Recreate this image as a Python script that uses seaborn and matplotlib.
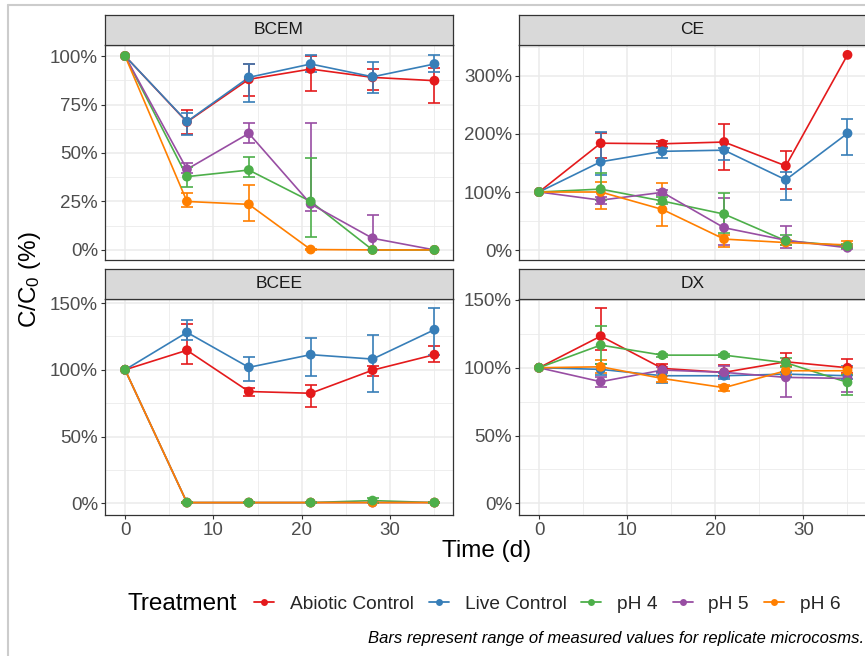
import numpy as np
import pandas as pd
import matplotlib
matplotlib.use("Agg")
import matplotlib.pyplot as plt
import seaborn as sns
from matplotlib.lines import Line2D
from matplotlib.ticker import FuncFormatter, FixedLocator

# ---------------- data ----------------
days = [0, 7, 14, 21, 28, 35]
treatments = ["Abiotic Control", "Live Control", "pH 4", "pH 5", "pH 6"]
colors = ["#E41A1C", "#377EB8", "#4DAF4A", "#984EA3", "#FF7F00"]
compounds = ["BCEM", "CE", "BCEE", "DX"]

# BCEM
bcem_abiotic = [100, 66, 88, 93.3, 89, 87.3]
bcem_abiotic_lo = [100, 60, 79.4, 82, 82.5, 75.6]
bcem_abiotic_hi = [100, 72, 96, 100.2, 93.3, 94]
bcem_live = [100, 66.2, 89, 95.9, 89.3, 95.9]
bcem_live_lo = [100, 59.3, 76.5, 92, 81, 92]
bcem_live_hi = [100, 70.8, 95.9, 100.5, 97, 100.5]
bcem_ph4 = [100, 37.8, 41.2, 25, 0, 0]
bcem_ph4_lo = [100, 32.6, 37.8, 6.9, 0, 0]
bcem_ph4_hi = [100, 42.6, 47.8, 47.3, 0, 0]
bcem_ph5 = [100, 41.6, 60.1, 23.7, 6, 0]
bcem_ph5_lo = [100, 39.5, 55.3, 20, 0, 0]
bcem_ph5_hi = [100, 44.7, 65.3, 65.6, 18, 0]
bcem_ph6 = [100, 25, 23.5, 0.2, 0, 0]
bcem_ph6_lo = [100, 22, 15.1, 0, 0, 0]
bcem_ph6_hi = [100, 29.6, 33.5, 0.5, 0, 0]

# CE
ce_abiotic = [100, 184, 183, 186, 145, 336]
ce_abiotic_lo = [100, 159, 178, 138, 106, 336]
ce_abiotic_hi = [100, 201, 187, 217, 171, 336]
ce_live = [100, 152, 170, 172, 121, 201]
ce_live_lo = [100, 130, 158, 155, 87, 164]
ce_live_hi = [100, 204, 175, 175, 135, 225]
ce_ph4 = [100, 105, 84.5, 62, 16, 7]
ce_ph4_lo = [100, 86, 79, 29, 9, 4]
ce_ph4_hi = [100, 132, 92, 99, 26, 11]
ce_ph5 = [100, 86, 99.4, 38.5, 17, 4]
ce_ph5_lo = [100, 79, 95, 9, 3, 2]
ce_ph5_hi = [100, 92, 103, 89, 42, 7]
ce_ph6 = [100, 100, 70, 19, 13, 9]
ce_ph6_lo = [100, 70, 42, 6, 9, 6]
ce_ph6_hi = [100, 118, 116, 26, 17, 16]

# BCEE
bcee_abiotic = [100, 114.6, 83.7, 82.4, 99.7, 111.3]
bcee_abiotic_lo = [100, 104, 80.4, 72, 95.5, 105.5]
bcee_abiotic_hi = [100, 134, 86, 88.7, 103, 118]
bcee_live = [100, 128, 101.8, 111.3, 108, 130]
bcee_live_lo = [100, 122, 91.7, 95.5, 83.7, 111]
bcee_live_hi = [100, 137.4, 109.8, 124, 126, 146.5]
bcee_ph4 = [100, 0.5, 0.5, 0.5, 2, 0.5]
bcee_ph4_lo = [100, 0.3, 0.3, 0.3, 0.3, 0.3]
bcee_ph4_hi = [100, 0.7, 0.7, 0.7, 3.8, 0.7]
bcee_ph5 = [100, 0.5, 0.5, 0.5, 0.5, 0.5]
bcee_ph5_lo = [100, 0.3, 0.3, 0.3, 0.3, 0.3]
bcee_ph5_hi = [100, 0.7, 0.7, 0.7, 0.7, 0.7]
bcee_ph6 = [100, 0.5, 0.5, 0.5, 0.5, 0.5]
bcee_ph6_lo = [100, 0.3, 0.3, 0.3, 0.3, 0.3]
bcee_ph6_hi = [100, 0.7, 0.7, 0.7, 0.7, 0.7]

# DX
dx_abiotic = [100, 123.3, 99.5, 96.6, 104.4, 100]
dx_abiotic_lo = [100, 113, 97, 94, 101, 95.8]
dx_abiotic_hi = [100, 143.7, 103, 102, 110.6, 106.4]
dx_live = [100, 98.8, 94.1, 94.1, 95.3, 94.1]
dx_live_lo = [100, 94.6, 89, 92, 93, 92]
dx_live_hi = [100, 103, 97, 95.8, 97, 101]
dx_ph4 = [100, 116.7, 109.3, 109.3, 103.7, 89.2]
dx_ph4_lo = [100, 103, 108, 108, 100.7, 79.9]
dx_ph4_hi = [100, 130.7, 110.5, 110.5, 107, 94.6]
dx_ph5 = [100, 89.7, 98.3, 96.6, 92.9, 92.1]
dx_ph5_lo = [100, 86, 95.8, 92.9, 78.6, 82.3]
dx_ph5_hi = [100, 92.9, 100.2, 101, 101, 94.6]
dx_ph6 = [100, 100.7, 92.1, 85.3, 97.8, 97.8]
dx_ph6_lo = [100, 95.8, 89.7, 83, 94.6, 95.3]
dx_ph6_hi = [100, 105.7, 93.9, 87.2, 101, 100.2]

y_ticks = {
    "BCEM": [0, 25, 50, 75, 100],
    "CE": [0, 100, 200, 300],
    "BCEE": [0, 50, 100, 150],
    "DX": [0, 50, 100, 150],
}
x_ticks = [0, 10, 20, 30]

series = {
    "BCEM": [(bcem_abiotic, bcem_abiotic_lo, bcem_abiotic_hi), (bcem_live, bcem_live_lo, bcem_live_hi),
             (bcem_ph4, bcem_ph4_lo, bcem_ph4_hi), (bcem_ph5, bcem_ph5_lo, bcem_ph5_hi),
             (bcem_ph6, bcem_ph6_lo, bcem_ph6_hi)],
    "CE": [(ce_abiotic, ce_abiotic_lo, ce_abiotic_hi), (ce_live, ce_live_lo, ce_live_hi),
           (ce_ph4, ce_ph4_lo, ce_ph4_hi), (ce_ph5, ce_ph5_lo, ce_ph5_hi),
           (ce_ph6, ce_ph6_lo, ce_ph6_hi)],
    "BCEE": [(bcee_abiotic, bcee_abiotic_lo, bcee_abiotic_hi), (bcee_live, bcee_live_lo, bcee_live_hi),
             (bcee_ph4, bcee_ph4_lo, bcee_ph4_hi), (bcee_ph5, bcee_ph5_lo, bcee_ph5_hi),
             (bcee_ph6, bcee_ph6_lo, bcee_ph6_hi)],
    "DX": [(dx_abiotic, dx_abiotic_lo, dx_abiotic_hi), (dx_live, dx_live_lo, dx_live_hi),
           (dx_ph4, dx_ph4_lo, dx_ph4_hi), (dx_ph5, dx_ph5_lo, dx_ph5_hi),
           (dx_ph6, dx_ph6_lo, dx_ph6_hi)],
}

rows = []
for comp in compounds:
    for t, (m, lo, hi) in zip(treatments, series[comp]):
        for d, v, l, h in zip(days, m, lo, hi):
            rows.append(dict(compound=comp, treatment=t, day=d, value=v, lo=l, hi=h))
df = pd.DataFrame(rows)

# ---------------- style ----------------
sns.set_theme(style="white")
plt.rcParams["font.family"] = ["Liberation Sans", "DejaVu Sans"]
plt.rcParams["mathtext.default"] = "regular"

palette = dict(zip(treatments, colors))
point_order = ["Abiotic Control", "Live Control", "pH 5", "pH 6", "pH 4"]

W, H = 865, 656
fig = plt.figure(figsize=(W / 100, H / 100), dpi=100)
fig.patch.set_facecolor("white")

def fx(px):
    return px / W

def fy(py):
    return 1 - py / H

panels = {
    "BCEM": (105, 453, 45, 260, 15, (-5.2, 105.7)),
    "CE": (519, 866, 45, 260, 15, (-17, 353)),
    "BCEE": (105, 453, 299, 515, 269, (-8.8, 153)),
    "DX": (519, 866, 299, 515, 269, (-8.6, 150.7)),
}

frame_col = "#333333"
grid_col = "#EBEBEB"

for comp in compounds:
    x0, x1, y0, y1, s0, ylim = panels[comp]
    ax = fig.add_axes([fx(x0), fy(y1), fx(x1 - x0), (y1 - y0) / H])
    sub = df[df.compound == comp]

    sns.lineplot(data=sub, x="day", y="value", hue="treatment", hue_order=treatments,
                 palette=palette, ax=ax, legend=False, lw=1.2, errorbar=None, zorder=2)
    for t in point_order:
        s = sub[(sub.treatment == t) & (sub.hi > sub.lo)]
        if len(s):
            ax.errorbar(s["day"], s["value"],
                        yerr=[s["value"] - s["lo"], s["hi"] - s["value"]],
                        fmt="none", ecolor=palette[t], elinewidth=1.2, capsize=4.5,
                        capthick=1.2, zorder=3)
    for t in point_order:
        s = sub[sub.treatment == t]
        sns.scatterplot(data=s, x="day", y="value", color=palette[t], ax=ax,
                        legend=False, s=50, edgecolor="none", linewidth=0, zorder=4)

    ax.set_xlim(-2.27, 37.1)
    ax.set_ylim(*ylim)
    ax.xaxis.set_major_locator(FixedLocator(x_ticks))
    ax.xaxis.set_minor_locator(FixedLocator([5, 15, 25, 35]))
    yt = y_ticks[comp]
    ax.yaxis.set_major_locator(FixedLocator(yt))
    step = yt[1] - yt[0]
    ax.yaxis.set_minor_locator(FixedLocator([v + step / 2 for v in yt]))
    ax.yaxis.set_major_formatter(FuncFormatter(lambda v, p: f"{v:.0f}%"))
    ax.grid(True, which="major", color=grid_col, lw=1.1, zorder=0)
    ax.grid(True, which="minor", color=grid_col, lw=0.6, zorder=0)
    ax.set_axisbelow(True)
    ax.set_xlabel("")
    ax.set_ylabel("")
    for sp in ax.spines.values():
        sp.set_color(frame_col)
        sp.set_linewidth(0.9)
    ax.tick_params(axis="both", which="major", length=3, width=0.8, color=frame_col,
                   labelsize=13.5, labelcolor="#4D4D4D", pad=2, direction="out",
                   left=True, bottom=True)
    ax.tick_params(which="minor", length=0)
    if comp in ("BCEM", "CE"):
        ax.tick_params(axis="x", labelbottom=False, bottom=False)

    # strip
    sax = fig.add_axes([fx(x0), fy(y0), fx(x1 - x0), (y0 - s0) / H])
    sax.set_facecolor("#D9D9D9")
    sax.set_xticks([])
    sax.set_yticks([])
    for sp in sax.spines.values():
        sp.set_color(frame_col)
        sp.set_linewidth(0.9)
    sax.text(0.5, 0.5, comp, transform=sax.transAxes, ha="center", va="center",
             fontsize=12.5, color="#1A1A1A")

# axis titles
fig.text(fx(30), fy(280), "C/C$_0$ (%)", rotation=90, ha="center", va="center",
         fontsize=17.5, color="black")
fig.text(fx(487), fy(551), "Time (d)", ha="center", va="center", fontsize=17.5,
         color="black")

# legend
fig.text(fx(128), fy(604), "Treatment", ha="left", va="center", fontsize=17.5,
         color="black")
handles = [Line2D([0], [0], color=c, lw=1.3, marker="o", markersize=5,
                  markeredgewidth=0) for c in colors]
fig.legend(handles, treatments, loc="center left", bbox_to_anchor=(fx(254), fy(604)),
           ncol=5, frameon=False, fontsize=13.8, handlelength=1.04, handletextpad=0.83,
           columnspacing=0.78, borderaxespad=0, borderpad=0)

# caption
fig.text(fx(864), fy(639), "Bars represent range of measured values for replicate microcosms.",
         ha="right", va="center", fontsize=12, style="italic", color="black")

# outer frame of the screenshot
fig.add_artist(Line2D([fx(8), 1], [fy(5), fy(5)], color="#CCCCCC", lw=1.5))
fig.add_artist(Line2D([fx(8), fx(8)], [fy(5), 0], color="#CCCCCC", lw=1.5))

fig.savefig("out.png", dpi=100, facecolor="white")
